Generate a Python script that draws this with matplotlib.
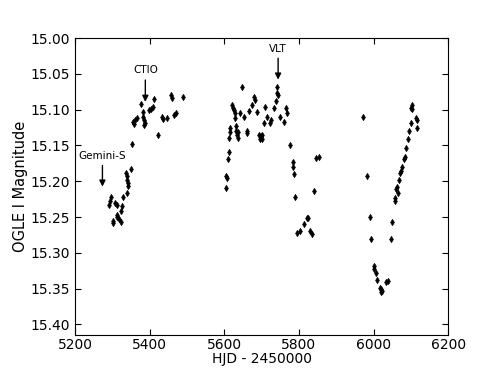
import matplotlib
matplotlib.use('Agg')
import matplotlib.pyplot as plt
import numpy as np

# OGLE I-band light curve
hjd_a = [5351.8, 5349.1, 5336.5, 5338.4, 5340.0, 5341.9, 5342.7, 5338.4, 5327.7, 5296.4,
         5293.7, 5291.8, 5307.1, 5311.6, 5325.0, 5323.2, 5311.6, 5313.3, 5302.5, 5300.9,
         5318.6, 5322.4]
mag_a = [15.148, 15.183, 15.188, 15.193, 15.198, 15.202, 15.207, 15.216, 15.222, 15.222,
         15.228, 15.233, 15.230, 15.233, 15.235, 15.241, 15.247, 15.250, 15.256, 15.259,
         15.253, 15.257]

hjd_b = [5377.5, 5412.3, 5457.0, 5460.5, 5490.0, 5381.2, 5382.9, 5384.7, 5386.6, 5385.5,
         5397.3, 5403.5, 5408.0, 5365.2, 5360.6, 5354.5, 5358.0, 5432.9, 5436.4, 5445.5,
         5465.0, 5470.4, 5421.4]
mag_b = [15.092, 15.085, 15.080, 15.083, 15.082, 15.103, 15.110, 15.114, 15.119, 15.121,
         15.100, 15.099, 15.096, 15.111, 15.114, 15.117, 15.120, 15.110, 15.113, 15.112,
         15.108, 15.105, 15.136]

hjd_c = [5647.9, 5680.0, 5683.3, 5621.1, 5623.8, 5626.5, 5629.7, 5629.2, 5641.8, 5653.3,
         5667.2, 5674.7, 5686.5, 5710.0, 5715.4, 5724.7, 5722.1, 5706.5, 5615.0, 5614.2,
         5612.8, 5631.8, 5632.4, 5637.7, 5635.1, 5635.6, 5659.7, 5661.3, 5693.4, 5699.3,
         5701.5, 5695.3, 5699.9, 5611.8, 5610.7, 5604.3, 5606.4, 5603.7, 5741.6, 5740.0,
         5744.3, 5737.3, 5733.6, 5764.1, 5768.4, 5748.9, 5759.6]
mag_c = [15.068, 15.082, 15.086, 15.093, 15.098, 15.101, 15.105, 15.112, 15.105, 15.110,
         15.102, 15.094, 15.103, 15.096, 15.110, 15.114, 15.119, 15.119, 15.125, 15.131,
         15.139, 15.123, 15.130, 15.131, 15.136, 15.140, 15.130, 15.132, 15.135, 15.137,
         15.135, 15.141, 15.141, 15.159, 15.169, 15.192, 15.195, 15.209, 15.068, 15.077,
         15.079, 15.088, 15.097, 15.097, 15.104, 15.110, 15.117]

hjd_d = [5776.4, 5782.8, 5783.1, 5785.5, 5789.8, 5844.7, 5853.8, 5841.2, 5820.3, 5823.0,
         5813.9, 5802.4, 5793.6, 5829.2, 5833.7]
mag_d = [15.149, 15.173, 15.180, 15.190, 15.222, 15.168, 15.166, 15.214, 15.252, 15.252,
         15.260, 15.269, 15.273, 15.269, 15.274]

hjd_e = [5971.8, 5983.1, 5989.8, 5994.3, 6001.0, 6000.5, 6006.4, 6009.9, 6016.6, 6021.1,
         6023.8, 6019.3, 6033.2, 6038.8, 6049.5, 6047.9, 6103.0, 6101.4, 6104.1, 6112.9,
         6115.6, 6116.4, 6099.0, 6094.2, 6092.4, 6088.1, 6084.8, 6080.8, 6077.3, 6074.6,
         6070.9, 6068.2, 6062.9, 6059.4, 6066.1, 6056.7, 6057.5]
mag_e = [15.110, 15.193, 15.250, 15.281, 15.318, 15.322, 15.328, 15.338, 15.349, 15.351,
         15.353, 15.355, 15.341, 15.340, 15.257, 15.280, 15.093, 15.097, 15.099, 15.112,
         15.115, 15.126, 15.119, 15.130, 15.141, 15.154, 15.166, 15.169, 15.180, 15.186,
         15.188, 15.198, 15.208, 15.211, 15.216, 15.223, 15.228]

# epochs of the spectra (label, hjd, arrow tip, arrow tail)
obs_labels = ['Gemini-S', 'CTIO', 'VLT']
obs_hjd = [5273, 5388, 5744]
obs_tip = [15.2075, 15.089, 15.058]
obs_tail = [15.178, 15.0585, 15.028]

hjd = np.concatenate([hjd_a, hjd_b, hjd_c, hjd_d, hjd_e])
mag = np.concatenate([mag_a, mag_b, mag_c, mag_d, mag_e])

fig = plt.figure(figsize=(4.98, 3.74), dpi=100)
ax = fig.add_axes([0.151, 0.104, 0.749, 0.794])

ax.plot(hjd, mag, 'kd', ms=3.2, mew=0.5)

for lab, x, tip, tail in zip(obs_labels, obs_hjd, obs_tip, obs_tail):
    ax.annotate('', xy=(x, tip), xytext=(x, tail),
                arrowprops=dict(arrowstyle='-|>', color='k', lw=1, mutation_scale=9,
                                shrinkA=0, shrinkB=0))
    ax.text(x, tail - 0.0065, lab, ha='center', va='bottom', fontsize=7.5)

ax.set_xlim(5200, 6200)
ax.set_ylim(15.415, 15.0)
ax.set_xticks([5200, 5400, 5600, 5800, 6000, 6200])
ax.set_yticks(np.arange(15.0, 15.41, 0.05))
ax.yaxis.set_major_formatter(matplotlib.ticker.FormatStrFormatter('%.2f'))
ax.tick_params(direction='in', top=True, right=True, labelsize=10, length=4)
ax.tick_params(axis='x', pad=2)
ax.set_xlabel('HJD - 2450000', fontsize=10, labelpad=0)
ax.set_ylabel('OGLE I Magnitude', fontsize=10.5, labelpad=2)

plt.savefig('out.png', dpi=100)
